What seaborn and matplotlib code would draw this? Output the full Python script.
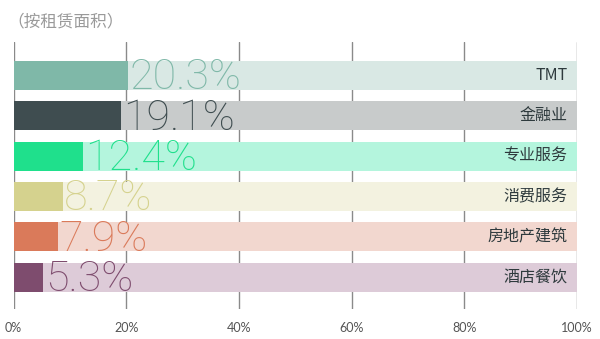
import matplotlib
matplotlib.use("Agg")
import matplotlib.pyplot as plt
import seaborn as sns
import pandas as pd

categories = ["TMT", "金融业", "专业服务", "消费服务", "房地产建筑", "酒店餐饮"]
values = [20.3, 19.1, 12.4, 8.7, 7.9, 5.3]
value_labels = ["20.3%", "19.1%", "12.4%", "8.7%", "7.9%", "5.3%"]
main_colors = ["#7fb8a8", "#3f4d50", "#1fe08c", "#d5d28e", "#da7a5a", "#7e4c6e"]
bg_colors = ["#d9e8e4", "#c8cbcb", "#b4f5dd", "#f3f2e0", "#f2d7cf", "#ddcbd8"]
x_ticks = [0, 20, 40, 60, 80, 100]
x_tick_labels = ["0%", "20%", "40%", "60%", "80%", "100%"]
title = "（按租赁面积）"

sns.set_style("white")
plt.rcParams["font.family"] = ["Noto Sans CJK SC", "DejaVu Sans"]

df = pd.DataFrame({"cat": categories, "val": values, "full": [100] * len(categories)})

fig = plt.figure(figsize=(6, 3.39), dpi=100)
ax = fig.add_axes([13.5 / 600, 1 - 309 / 339, (577 - 13.5) / 600, (309 - 42) / 339])

for x in x_ticks:
    ax.axvline(x, color="#8a8a8a", lw=1.0, zorder=0)

sns.barplot(data=df, x="full", y="cat", hue="cat", palette=bg_colors, orient="h",
            width=0.72, legend=False, ax=ax, saturation=1, zorder=1)
sns.barplot(data=df, x="val", y="cat", hue="cat", palette=main_colors, orient="h",
            width=0.72, legend=False, ax=ax, saturation=1, zorder=2)
for p in ax.patches:
    p.set_edgecolor("none")

for i, (v, lab, c) in enumerate(zip(values, value_labels, main_colors)):
    ax.text(v + 0.3, i + 0.06, lab, color=c, fontsize=31, va="center", ha="left",
            family=["Roboto", "DejaVu Sans"], fontweight="light", zorder=3)
    ax.text(98.3, i, categories[i], color="#2e3a3d", fontsize=11.5, va="center",
            ha="right", zorder=3)

ax.set_xlim(0, 100)
ax.set_ylim(5.79, -0.83)
ax.set_xticks(x_ticks)
ax.set_xticklabels(x_tick_labels, color="#555555", fontsize=9,
                   family=["Lato", "DejaVu Sans"])
ax.tick_params(axis="x", length=0, pad=9)
ax.set_yticks([])
ax.set_xlabel("")
ax.set_ylabel("")
for s in ax.spines.values():
    s.set_visible(False)
ax.set_facecolor("none")

fig.text(0.012, 0.935, title, color="#9a9a9a", fontsize=12, va="center", ha="left")

fig.savefig("out.png", dpi=100, facecolor="white")
